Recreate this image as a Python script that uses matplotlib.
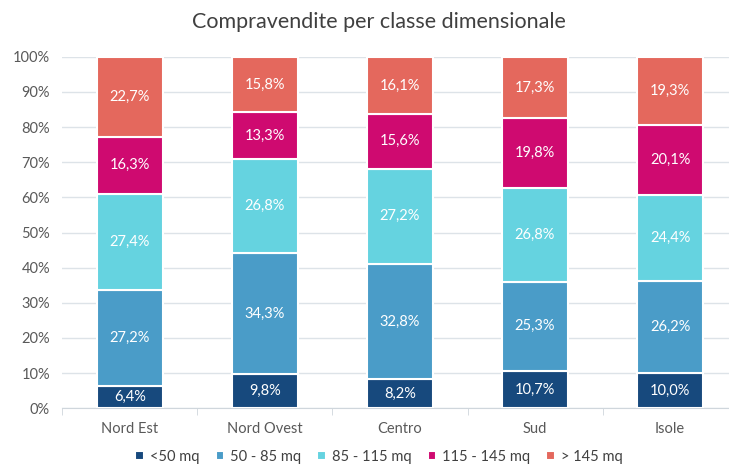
import matplotlib.pyplot as plt
import numpy as np

plt.rcParams['font.family'] = ['Lato', 'DejaVu Sans']

regions = ['Nord Est', 'Nord Ovest', 'Centro', 'Sud', 'Isole']
classes = ['<50 mq', '50 - 85 mq', '85 - 115 mq', '115 - 145 mq', '> 145 mq']
lt50 = [6.4, 9.8, 8.2, 10.7, 10.0]
c50_85 = [27.2, 34.3, 32.8, 25.3, 26.2]
c85_115 = [27.4, 26.8, 27.2, 26.8, 24.4]
c115_145 = [16.3, 13.3, 15.6, 19.8, 20.1]
gt145 = [22.7, 15.8, 16.1, 17.3, 19.3]
colors = ['#17497d', '#4a9cc8', '#65d3e0', '#cf0a70', '#e4685d']

series = [lt50, c50_85, c85_115, c115_145, gt145]

fig = plt.figure(figsize=(7.29, 4.66), dpi=100)
# the right end of the category axis runs past the figure edge, as in the source
ax = fig.add_axes([0.0857, 0.124, 0.926, 0.754])

x = np.arange(len(regions))
bottom = np.zeros(len(regions))
for vals, col, lab in zip(series, colors, classes):
    vals = np.array(vals)
    ax.bar(x, vals, 0.49, bottom=bottom, color=col, edgecolor='white',
           linewidth=1.5, label=lab, zorder=3)
    for xi, b, v in zip(x, bottom, vals):
        ax.text(xi, b + v / 2, f'{v:.1f}%'.replace('.', ','), ha='center',
                va='center', color='white', fontsize=10.5, zorder=4)
    bottom += vals

ax.set_ylim(0, 100)
ax.set_xlim(-0.5, len(regions) - 0.5)
ax.set_yticks(np.arange(0, 101, 10))
ax.set_yticklabels([f'{v}%' for v in range(0, 101, 10)], color='#595959', fontsize=10.5)
ax.yaxis.grid(True, color='#dde3e8', linewidth=1, zorder=0)
ax.tick_params(axis='y', length=0, pad=9)
ax.set_xticks(x)
ax.set_xticklabels(regions, color='#595959', fontsize=10.5)
ax.set_xticks(np.arange(-0.5, len(regions)), minor=True)
ax.tick_params(axis='x', which='major', length=0, pad=10)
ax.tick_params(axis='x', which='minor', length=5, color='#cfd6dc')
for s in ['top', 'right', 'left']:
    ax.spines[s].set_visible(False)
ax.spines['bottom'].set_color('#cfd6dc')

fig.suptitle('Compravendite per classe dimensionale', fontsize=15.5, color='#404040',
             x=0.52, y=0.953, va='center')
fig.legend(*ax.get_legend_handles_labels(), loc='center', bbox_to_anchor=(0.52, 0.02),
           ncol=5, frameon=False, fontsize=10.5, handlelength=0.6, handleheight=0.6,
           handletextpad=0.4, columnspacing=1.1, labelcolor='#404040', borderpad=0)

fig.savefig('out.png', dpi=100)
